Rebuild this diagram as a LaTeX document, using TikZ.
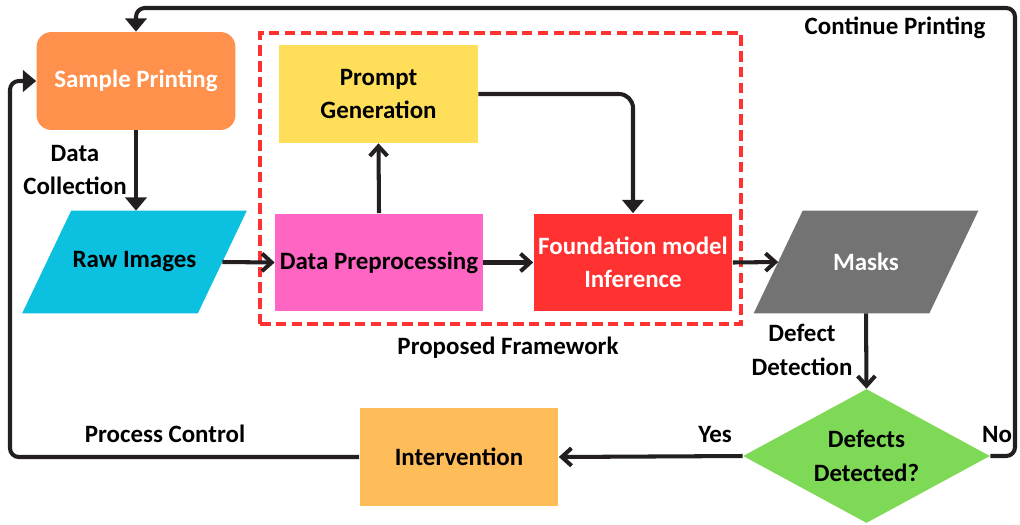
\documentclass[tikz,border=0pt]{standalone}
\usepackage{fontspec}
\setmainfont{Carlito}
\usetikzlibrary{shapes.geometric, arrows.meta, positioning, calc, backgrounds}

\definecolor{sampleorange}{HTML}{FF914D}
\definecolor{rawcyan}{HTML}{0CC0DF}
\definecolor{promptyellow}{HTML}{FFDE59}
\definecolor{prepink}{HTML}{FF66C4}
\definecolor{fmred}{HTML}{FF3131}
\definecolor{maskgray}{HTML}{737373}
\definecolor{decgreen}{HTML}{7ED957}
\definecolor{intorange}{HTML}{FFBD59}
\definecolor{linedark}{HTML}{231F20}

\begin{document}
\begin{tikzpicture}[
          x=0.02cm, y=-0.02cm, % one unit = one pixel of the layout
          font=\fontsize{14.2}{19}\selectfont\bfseries,
          every node/.style={align=center, inner sep=1pt},
          box/.style={rectangle, minimum width=3.98cm, minimum height=1.96cm},
          parbox/.style={rectangle, minimum width=3.5cm, minimum height=2.04cm}, % mid-width of the slanted box
          decision/.style={diamond, fill=decgreen, aspect=1.84, minimum width=4.94cm, minimum height=2.68cm, inner sep=0pt},
          frame/.style={rectangle, draw=fmred, line width=2pt, dash pattern=on 6pt off 3pt},
          arr/.style={draw=linedark, line width=2.3pt, -{Straight Barb[length=5.5pt, width=10pt, line width=2.3pt]}},
          farr/.style={draw=linedark, line width=2.3pt, -{Triangle[length=7.5pt, width=12pt]}}
        ]
        \useasboundingbox (0,0) rectangle (1020,524);

        % main flow
        \node [box, fill=sampleorange, text=white, rounded corners=0.3cm] (sample) at (136,81) {Sample Printing};
        \node [parbox] (raw) at (134.5,262) {Raw Images};
        \node [box, fill=promptyellow] (prompt) at (378.5,94) {Prompt\\Generation};
        \node [box, fill=prepink, minimum width=4.16cm] (prep) at (379,262.5) {Data Preprocessing};
        \node [box, fill=fmred, text=white] (infer) at (633,262.5) {Foundation model\\Inference};
        \node [parbox, text=white] (masks) at (866,262) {Masks};
        \node [decision] (defects) at (866.5,456) {Defects\\Detected?};
        \node [box, fill=intorange] (interv) at (459,457) {Intervention};
        \node [frame, minimum width=9.62cm, minimum height=5.82cm] (framework) at (500.5,178.5) {};

        \begin{pgfonlayer}{background}
          \fill [rawcyan] ($(raw.south west)+(-24.5,0)$) -- ($(raw.north west)+(24.5,0)$)
                -- ($(raw.north east)+(24.5,0)$) -- ($(raw.south east)+(-24.5,0)$) -- cycle;
          \fill [maskgray] ($(masks.south west)+(-24.5,0)$) -- ($(masks.north west)+(24.5,0)$)
                -- ($(masks.north east)+(24.5,0)$) -- ($(masks.south east)+(-24.5,0)$) -- cycle;
        \end{pgfonlayer}

        \draw [farr] (sample.south) -- (sample.south |- raw.north);
        \draw [arr] (raw.east) -- (prep.west);
        \draw [arr] (prep.north) -- (prompt.south);
        \draw [arr] (prep.east) -- (infer.west);
        \draw [farr, rounded corners=8pt] (prompt.east) -| (infer.north);
        \draw [arr] (infer.east) -- (masks.west);
        \draw [arr] (masks.south) -- (defects.north);
        \draw [arr] (defects.west) -- (interv.east);

        % feedback loops
        \coordinate (noturn) at (1015,8);
        \coordinate (ctrlturn) at (10,81);
        \draw [farr, rounded corners=5pt] (defects.east) -| (noturn) -| (sample.north);
        \draw [farr, rounded corners=5pt] (interv.west) -| (ctrlturn) -- (sample.west);

        % labels
        \node (contlbl) at (895,28) {Continue Printing};
        \node (colllbl) at (75,170) {Data\\Collection};
        \node (proplbl) at (508,348) {Proposed Framework};
        \node (detlbl) at (802,350) {Defect\\Detection};
        \node (yeslbl) at (715,434) {Yes};
        \node (nolbl) at (997,434) {No};
        \node (ctrllbl) at (165,434) {Process Control};
        \end{tikzpicture}
\end{document}
